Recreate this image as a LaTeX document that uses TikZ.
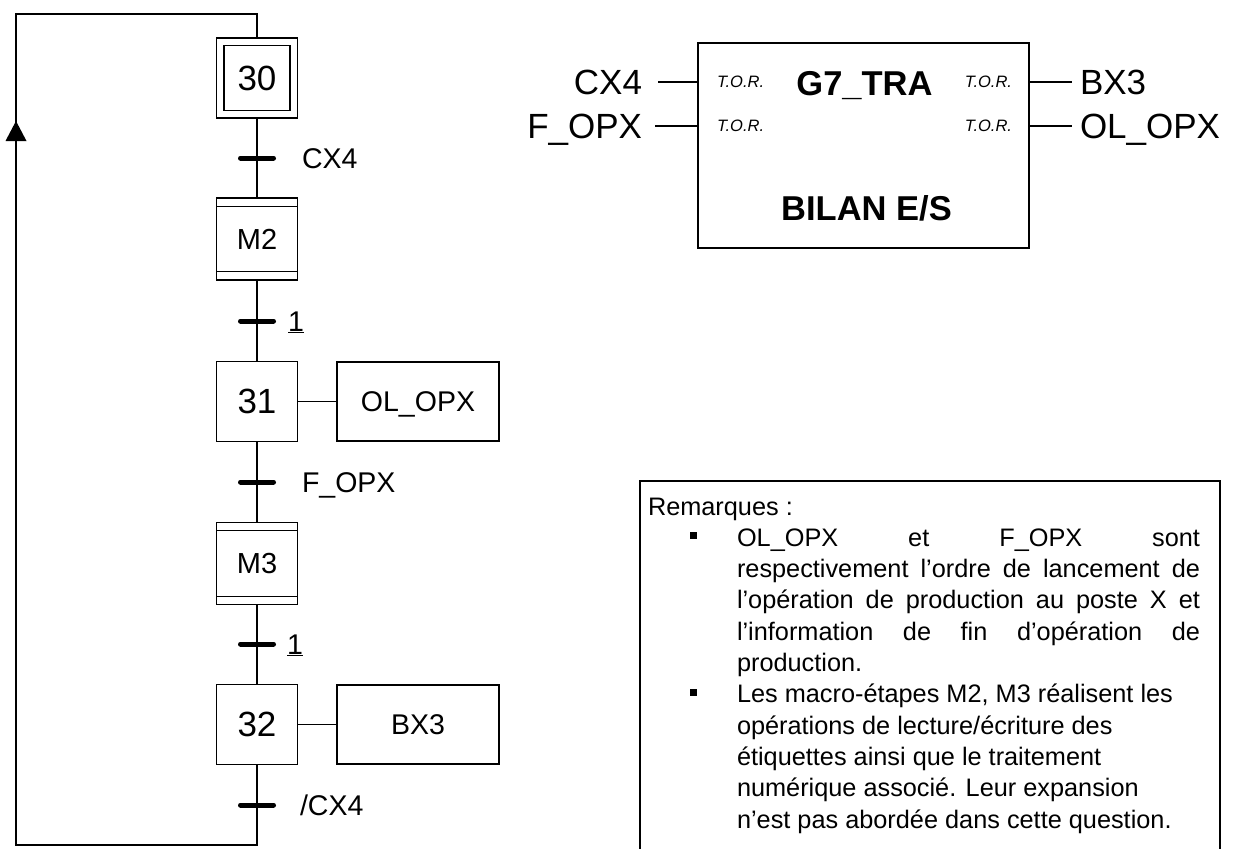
\documentclass[tikz,border=0pt]{standalone}
\usepackage{fontspec}
\setmainfont{Liberation Sans}
\begin{document}
\begin{tikzpicture}[x=1pt,y=-1pt, line width=1.3pt,
  every node/.style={inner sep=0pt, outer sep=0pt},
  stepbox/.style={draw, minimum width=81pt, minimum height=80pt, font=\fontsize{35}{40}\selectfont},
  macrobox/.style={draw, minimum width=81pt, minimum height=82pt, font=\fontsize{29}{34}\selectfont},
  actbox/.style={draw, minimum width=162pt, minimum height=79pt, text height=20.4pt, text depth=0pt, font=\fontsize{28.5}{33}\selectfont},
  tlabel/.style={anchor=west, text height=20.4pt, text depth=0pt, font=\fontsize{28.5}{33}\selectfont},
  tbar/.style={line width=5pt, line cap=round},
  tor/.style={text height=11.8pt, text depth=0pt, font=\fontsize{16.5}{19}\selectfont\itshape},
  sig/.style={text height=25pt, text depth=0pt, font=\fontsize{35}{40}\selectfont},
  bigbold/.style={text height=24.7pt, text depth=0pt, font=\fontsize{34.5}{40}\selectfont\bfseries},
  rem/.style={anchor=base west, font=\fontsize{25.3}{30}\selectfont}
]
\useasboundingbox (0,0) rectangle (1233,848);
\fill[white] (0,0) rectangle (1233,848);

% ---- GRAFCET ----
\node[draw, minimum width=81pt, minimum height=80pt] (s30o) at (257,78) {};
\node[stepbox, minimum width=66pt, minimum height=65pt] (s30) at (257,78) {30};
\node[macrobox] (m2) at (257,239) {M2};
\node[stepbox] (s31) at (257,401.5) {31};
\node[macrobox] (m3) at (257,563.5) {M3};
\node[stepbox] (s32) at (257,724.5) {32};

\draw ([yshift=-8.5pt]m2.north west) -- ([yshift=-8.5pt]m2.north east);
\draw ([yshift=8.5pt]m2.south west) -- ([yshift=8.5pt]m2.south east);
\draw ([yshift=-8pt]m3.north west) -- ([yshift=-8pt]m3.north east);
\draw ([yshift=8pt]m3.south west) -- ([yshift=8pt]m3.south east);

\node[actbox] (a31) at (418,401.5) {OL\_OPX};
\node[actbox] (a32) at (418,724.5) {BX3};
\draw (s31) -- (a31);
\draw (s32) -- (a32);

\coordinate (t1) at (257,158);
\coordinate (t2) at (257,321);
\coordinate (t3) at (257,482);
\coordinate (t4) at (257,644);
\coordinate (t5) at (257,805);

\draw (s30o) -- (m2);
\draw (m2) -- (s31);
\draw (s31) -- (m3);
\draw (m3) -- (s32);

\foreach \t in {t1,t2,t3,t4,t5}
  \draw[tbar] ([xshift=-16.5pt]\t) -- ([xshift=16.5pt]\t);

\node[tlabel] (l1) at (302,158) {CX4};
\node[tlabel] (l2) at (288,321) {\underline{1}};
\node[tlabel] (l3) at (302,482) {F\_OPX};
\node[tlabel] (l4) at (287,644) {\underline{1}};
\node[tlabel] (l5) at (300,805) {/CX4};

% loop back
\draw (s32) -- (257,845) -| (16,14) -| (s30o.north);
\fill (16,121) -- (26.5,141) -- (5.5,141) -- cycle;

% ---- G7_TRA block ----
\node[draw, minimum width=331pt, minimum height=205pt] (g7) at (863.5,145.5) {};
\node[bigbold] (g7t) at (864.5,83) {G7\_TRA};
\node[bigbold] (bil) at (866.5,208) {BILAN E/S};

\node[tor, anchor=west] (tor1) at (717,82) {T.O.R.};
\node[tor, anchor=west] (tor2) at (717,126) {T.O.R.};
\node[tor, anchor=east] (tor3) at (1012,82) {T.O.R.};
\node[tor, anchor=east] (tor4) at (1012,126) {T.O.R.};

\node[sig, anchor=east] (cx4) at (642,82) {CX4};
\node[sig, anchor=east] (fopx) at (642,126) {F\_OPX};
\node[sig, anchor=west] (bx3) at (1080,82) {BX3};
\node[sig, anchor=west] (olopx) at (1080,126) {OL\_OPX};

\draw ([xshift=16pt]cx4.east) -- (cx4.east -| g7.west);
\draw ([xshift=13pt]fopx.east) -- (fopx.east -| g7.west);
\draw (bx3.west -| g7.east) -- ([xshift=-8pt]bx3.west);
\draw (olopx.west -| g7.east) -- ([xshift=-8pt]olopx.west);

% ---- Remarques ----
\node[draw, anchor=north west, minimum width=580pt, minimum height=380pt] (rembox) at (640,481) {};
\node[rem] (r0) at (648,515) {Remarques :};
\node[rem] (b1) at (690,546.3) {\rule[7pt]{7pt}{7pt}};
\node[rem] (r1) at (737,546.3) {\makebox[463pt][s]{OL\_OPX et F\_OPX sont}};
\node[rem] (r2) at (737,577.6) {\makebox[463pt][s]{respectivement l’ordre de lancement de}};
\node[rem] (r3) at (737,608.9) {\makebox[463pt][s]{l’opération de production au poste X et}};
\node[rem] (r4) at (737,640.2) {\makebox[463pt][s]{l’information de fin d’opération de}};
\node[rem] (r5) at (737,671.5) {production.};
\node[rem] (b2) at (690,702.8) {\rule[7pt]{7pt}{7pt}};
\node[rem] (r6) at (737,702.8) {Les macro-étapes M2, M3 réalisent les};
\node[rem] (r7) at (737,734.1) {opérations de lecture/écriture des};
\node[rem] (r8) at (737,765.4) {étiquettes ainsi que le traitement};
\node[rem] (r9) at (737,796.7) {numérique associé. Leur expansion};
\node[rem] (r10) at (737,828) {n’est pas abordée dans cette question.};
\end{tikzpicture}
\end{document}
